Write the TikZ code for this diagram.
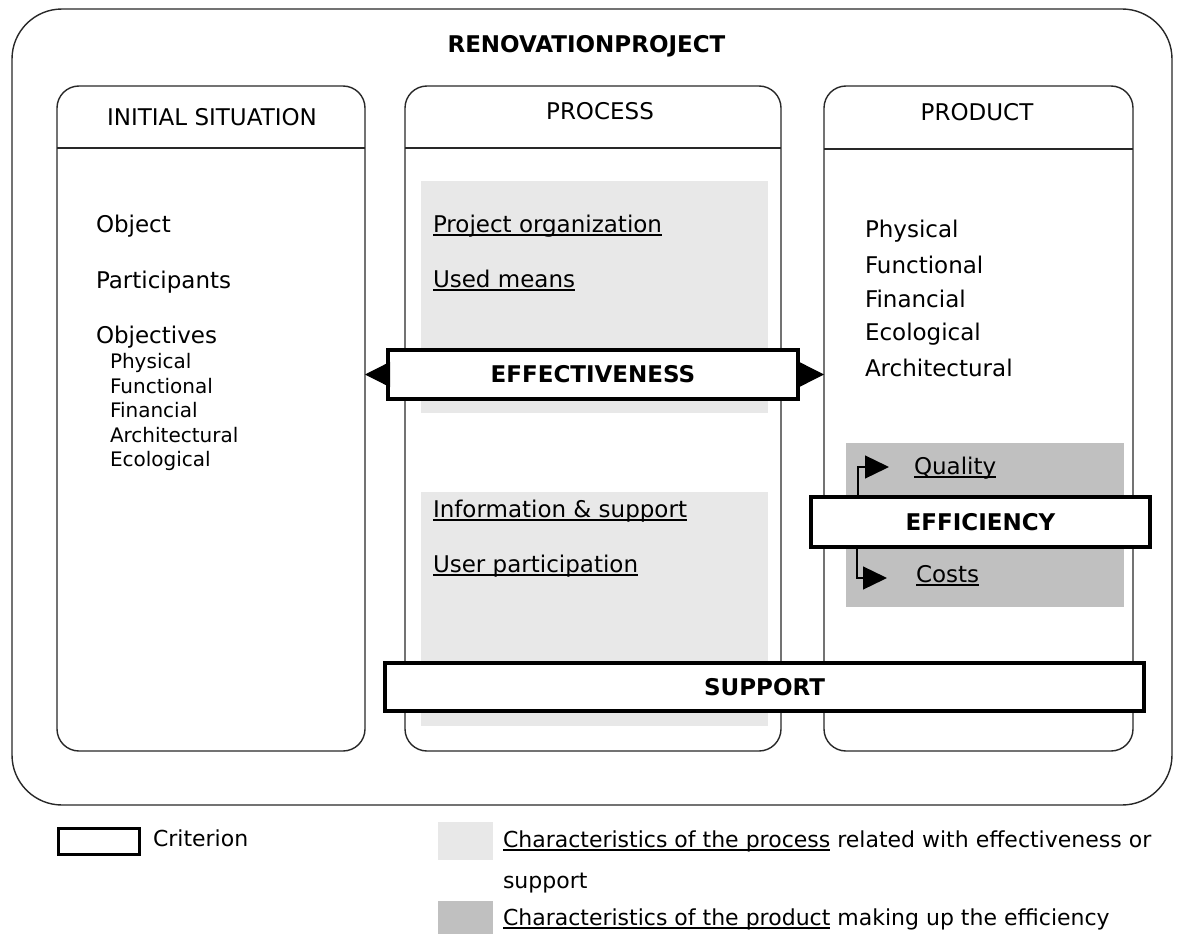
\documentclass[tikz,border=0pt]{standalone}
\usepackage{fontspec}
\setmainfont{DejaVu Sans}
\usetikzlibrary{arrows.meta}
\definecolor{lightg}{RGB}{232,232,232}
\definecolor{darkg}{RGB}{192,192,192}
\definecolor{edge}{RGB}{40,40,40}
\newcommand\ulx[1]{\setbox0=\hbox{#1}\rlap{\vrule height -2.4pt depth 4.0pt width \wd0}\box0\relax}
\begin{document}
\begin{tikzpicture}[x=1pt,y=-1pt,
  txt/.style={inner sep=0pt, outer sep=0pt, anchor=base west, font=\fontsize{23pt}{27pt}\selectfont},
  small/.style={inner sep=0pt, outer sep=0pt, anchor=base west, font=\fontsize{20pt}{24pt}\selectfont},
  legtxt/.style={inner sep=0pt, outer sep=0pt, anchor=base west, font=\fontsize{22pt}{26pt}\selectfont},
  hdr/.style={inner sep=0pt, outer sep=0pt, anchor=base, font=\fontsize{23pt}{27pt}\selectfont},
  panel/.style={draw=edge, line width=1.4pt, rounded corners=22pt, inner sep=0pt, outer sep=0pt},
  crit/.style={draw=black, line width=3.5pt, fill=white, inner sep=0pt, outer sep=0pt, font=\bfseries\fontsize{23pt}{27pt}\selectfont},
  tri/.style={-{Triangle[length=25pt,width=25pt]}, line width=1.4pt},
  trismall/.style={-{Triangle[length=24pt,width=23pt]}, line width=1.3pt},
]
\useasboundingbox (0,0) rectangle (1184,934);
\fill[white] (0,0) rectangle (1184,934);

% outer frame
\node[draw=edge, line width=1.4pt, rounded corners=50pt, inner sep=0pt, outer sep=0pt,
      minimum width=1160pt, minimum height=796pt] (outer) at (592,407) {};
\node[hdr, font=\bfseries\fontsize{23pt}{27pt}\selectfont] (title) at (586.5,53) {RENOVATIONPROJECT};

% shaded areas
\fill[lightg] (421,181) rectangle (768,413);
\fill[lightg] (421,492) rectangle (768,726);
\fill[darkg] (846,443) rectangle (1124,607);

% panels
\node[panel, minimum width=308pt, minimum height=665pt] (init) at (211,418.5) {};
\node[panel, minimum width=376pt, minimum height=665pt] (proc) at (593,418.5) {};
\node[panel, minimum width=309pt, minimum height=665pt] (prod) at (978.5,418.5) {};
\draw[edge, line width=1.4pt] (init.west |- 0,148) -- (init.east |- 0,148);
\draw[edge, line width=1.4pt] (proc.west |- 0,148) -- (proc.east |- 0,148);
\draw[edge, line width=1.4pt] (prod.west |- 0,149) -- (prod.east |- 0,149);

\node[hdr] (hinit) at (212,125) {INITIAL SITUATION};
\node[hdr] (hproc) at (600,120) {PROCESS};
\node[hdr] (hprod) at (977,121) {PRODUCT};

% initial situation
\node[txt] (obj) at (96,232) {Object};
\node[txt] (part) at (96,288) {Participants};
\node[txt] (objs) at (96,343) {Objectives};
\node[small] (o1) at (110,368) {Physical};
\node[small] (o2) at (110,393) {Functional};
\node[small] (o3) at (110,417) {Financial};
\node[small] (o4) at (110,442) {Architectural};
\node[small] (o5) at (110,466) {Ecological};

% process
\node[txt] (porg) at (433,232) {\ulx{Project organization}};
\node[txt] (used) at (433,287) {\ulx{Used means}};
\node[txt] (info) at (433,517) {\ulx{Information \& support}};
\node[txt] (user) at (433,572) {\ulx{User participation}};

% product
\node[txt] (p1) at (865,237) {Physical};
\node[txt] (p2) at (865,273) {Functional};
\node[txt] (p3) at (865,307) {Financial};
\node[txt] (p4) at (865,340) {Ecological};
\node[txt] (p5) at (865,376) {Architectural};
\node[txt] (qual) at (914,474) {\ulx{Quality}};
\node[txt] (cost) at (916,582) {\ulx{Costs}};

% criteria
\node[crit, minimum width=410pt, minimum height=49pt] (eff) at (593,374.5) {EFFECTIVENESS};
\node[crit, minimum width=339pt, minimum height=50pt] (effi) at (980.5,522) {EFFICIENCY};
\node[crit, minimum width=759pt, minimum height=48pt] (supp) at (764.5,687) {SUPPORT};

% arrows
\draw[tri] (eff.west) -- (init.east |- eff.west);
\draw[tri] (eff.east) -- (prod.west |- eff.east);
\coordinate (qtip) at (889,467);
\coordinate (ctip) at (887,578);
\draw[trismall] ([xshift=47pt]effi.north west) |- (qtip);
\draw[trismall] ([xshift=46pt]effi.south west) |- (ctip);

% legend
\node[draw=black, line width=3pt, inner sep=0pt, outer sep=0pt, minimum width=81pt, minimum height=26pt] (legcrit) at (98.5,841) {};
\node[legtxt] (legcrittxt) at (153,846) {Criterion};
\fill[lightg] (438,822) rectangle (493,860);
\fill[darkg] (438,901) rectangle (493,936);
\node[legtxt] (leg1) at (503,847) {\ulx{Characteristics of the process} related with effectiveness or};
\node[legtxt] (leg1b) at (503,888) {support};
\node[legtxt] (leg2) at (503,925) {\ulx{Characteristics of the product} making up the efficiency};
\end{tikzpicture}
\end{document}
